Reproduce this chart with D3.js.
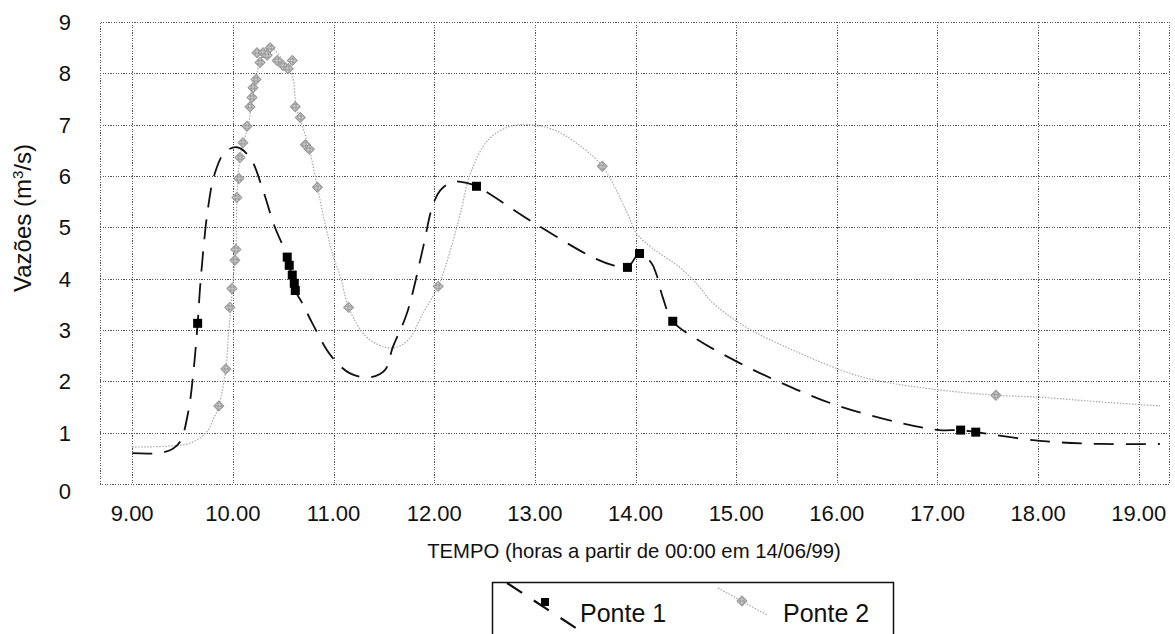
<!DOCTYPE html>
<html lang="pt">
  <head>
    <meta charset="utf-8">
    <title>Vazões - Ponte 1 e Ponte 2</title>
    <style>
      body {margin: 0; background: #fff;}
      svg {display: block;}
      text {font-family: "Liberation Sans", Arial, sans-serif; fill: #111;}
      .grid line {stroke: #555; stroke-dasharray: 1.2,1.4; shape-rendering: crispEdges;}
      .frame {fill: none; stroke: #555; stroke-dasharray: 1.2,1.4; shape-rendering: crispEdges;}
      .tick {font-size: 22px;}
    </style>
    <script src="https://d3js.org/d3.v7.min.js"></script>
  </head>
  <body>
    <script type="text/javascript">
      // tick values
      var xTicks = [9, 10, 11, 12, 13, 14, 15, 16, 17, 18, 19];
      var xTickLabels = ["9.00", "10.00", "11.00", "12.00", "13.00", "14.00", "15.00", "16.00", "17.00", "18.00", "19.00"];
      var yTicks = [0, 1, 2, 3, 4, 5, 6, 7, 8, 9];

      // Ponte 1 - smooth curve (time, flow)
      var p1LineT = [9.00, 9.26, 9.40, 9.48, 9.56, 9.61, 9.65, 9.68, 9.75, 9.82, 9.92, 10.04, 10.17, 10.30, 10.41, 10.54, 10.62, 10.69, 10.79, 10.97, 11.16, 11.36, 11.51, 11.59, 11.73, 11.89, 11.98, 12.06, 12.19, 12.33, 12.42, 12.98, 13.57, 13.78, 13.92, 14.04, 14.16, 14.21, 14.27, 14.37, 14.61, 15.04, 15.37, 15.96, 16.63, 17.02, 17.23, 17.38, 18.02, 18.61, 19.21];
      var p1LineQ = [0.60, 0.60, 0.68, 0.84, 1.44, 2.22, 3.13, 3.97, 5.33, 6.05, 6.46, 6.56, 6.36, 5.72, 5.04, 4.42, 3.77, 3.52, 3.13, 2.51, 2.16, 2.08, 2.22, 2.67, 3.33, 4.61, 5.39, 5.72, 5.89, 5.86, 5.80, 5.10, 4.42, 4.26, 4.22, 4.49, 4.30, 4.07, 3.64, 3.17, 2.82, 2.35, 2.04, 1.56, 1.19, 1.05, 1.05, 1.01, 0.84, 0.78, 0.78];
      // Ponte 1 - measured points
      var p1PtsT = [9.65, 10.54, 10.56, 10.59, 10.61, 10.62, 12.42, 13.92, 14.04, 14.37, 17.23, 17.38];
      var p1PtsQ = [3.13, 4.42, 4.26, 4.07, 3.91, 3.77, 5.80, 4.22, 4.49, 3.17, 1.05, 1.01];

      // Ponte 2 - smooth curve
      var p2LineT = [9.00, 9.38, 9.58, 9.74, 9.81, 9.86, 9.93, 9.96, 9.98, 10.01, 10.03, 10.04, 10.07, 10.11, 10.16, 10.19, 10.23, 10.28, 10.37, 10.50, 10.59, 10.63, 10.69, 10.76, 10.84, 10.92, 11.00, 11.07, 11.15, 11.31, 11.46, 11.59, 11.74, 11.89, 12.04, 12.16, 12.26, 12.36, 12.53, 12.73, 12.95, 13.20, 13.42, 13.67, 13.92, 14.01, 14.17, 14.44, 14.64, 14.74, 15.07, 15.63, 16.26, 16.95, 17.58, 18.02, 18.61, 19.21];
      var p2LineQ = [0.72, 0.74, 0.80, 1.01, 1.28, 1.52, 2.24, 3.00, 3.44, 4.16, 4.57, 5.53, 6.36, 6.69, 7.04, 7.53, 7.88, 8.29, 8.50, 8.25, 7.96, 7.35, 6.98, 6.52, 5.78, 5.04, 4.42, 4.03, 3.44, 2.90, 2.70, 2.65, 2.80, 3.33, 3.85, 4.55, 5.27, 6.05, 6.69, 6.95, 7.00, 6.89, 6.63, 6.19, 5.27, 4.88, 4.59, 4.22, 3.83, 3.58, 3.09, 2.55, 2.08, 1.85, 1.73, 1.69, 1.60, 1.52];
      // Ponte 2 - measured points
      var p2PtsT = [9.86, 9.93, 9.97, 9.99, 10.02, 10.03, 10.04, 10.06, 10.07, 10.10, 10.14, 10.17, 10.19, 10.20, 10.23, 10.27, 10.24, 10.30, 10.37, 10.34, 10.44, 10.50, 10.55, 10.59, 10.62, 10.67, 10.72, 10.76, 10.84, 11.15, 12.04, 13.67, 17.58];
      var p2PtsQ = [1.52, 2.24, 3.44, 3.81, 4.36, 4.57, 5.58, 5.95, 6.36, 6.65, 6.97, 7.35, 7.53, 7.72, 7.88, 8.21, 8.40, 8.40, 8.50, 8.35, 8.25, 8.15, 8.09, 8.25, 7.35, 7.14, 6.61, 6.52, 5.78, 3.44, 3.85, 6.19, 1.73];

      var width = 1175, height = 634;
      var plotLeft = 100, plotRight = 1169, plotTop = 22, plotBottom = 484;

      var svg = d3.select("body").append("svg")
        .attr("width", width)
        .attr("height", height);

      // halftone fill for the grey diamonds
      var pat = svg.append("defs").append("pattern")
        .attr("id", "halftone")
        .attr("width", 2).attr("height", 2)
        .attr("patternUnits", "userSpaceOnUse");
      pat.append("rect").attr("width", 2).attr("height", 2).attr("fill", "#d8d8d8");
      pat.append("rect").attr("width", 1).attr("height", 1).attr("fill", "#8a8a8a");
      pat.append("rect").attr("x", 1).attr("y", 1).attr("width", 1).attr("height", 1).attr("fill", "#8a8a8a");

      var x = d3.scaleLinear().domain([8.68, 19.3]).range([plotLeft, plotRight]);
      var y = d3.scaleLinear().domain([0, 9]).range([plotBottom, plotTop]);

      // grid
      var grid = svg.append("g").attr("class", "grid");
      grid.selectAll(".vg").data(xTicks).enter().append("line")
        .attr("x1", function(d) { return Math.round(x(d)) + 0.5; })
        .attr("x2", function(d) { return Math.round(x(d)) + 0.5; })
        .attr("y1", plotTop).attr("y2", plotBottom);
      grid.selectAll(".hg").data(yTicks.slice(1, -1)).enter().append("line")
        .attr("x1", plotLeft).attr("x2", plotRight)
        .attr("y1", function(d) { return Math.round(y(d)) + 0.5; })
        .attr("y2", function(d) { return Math.round(y(d)) + 0.5; });
      svg.append("rect").attr("class", "frame")
        .attr("x", plotLeft + 0.5).attr("y", plotTop + 0.5)
        .attr("width", plotRight - plotLeft).attr("height", plotBottom - plotTop);

      // tick labels
      svg.selectAll(".xl").data(xTicks).enter().append("text")
        .attr("class", "tick")
        .attr("x", function(d) { return x(d); })
        .attr("y", 521)
        .attr("text-anchor", "middle")
        .text(function(d, i) { return xTickLabels[i]; });
      svg.selectAll(".yl").data(yTicks).enter().append("text")
        .attr("class", "tick")
        .attr("x", 71)
        .attr("y", function(d) { return y(d) + 8 + (d == 0 ? 7 : 0); })
        .attr("text-anchor", "end")
        .text(function(d) { return d; });

      // axis titles
      svg.append("text")
        .attr("x", 634).attr("y", 558)
        .attr("text-anchor", "middle")
        .style("font-size", "20.3px")
        .text("TEMPO (horas a partir de 00:00 em 14/06/99)");
      var yt = svg.append("text")
        .attr("transform", "translate(31,218) rotate(-90)")
        .attr("text-anchor", "middle")
        .style("font-size", "24px");
      yt.append("tspan").text("Vazões (m");
      yt.append("tspan").attr("dy", -8).style("font-size", "15px").text("3");
      yt.append("tspan").attr("dy", 8).text("/s)");

      var line = d3.line()
        .x(function(d) { return x(d[0]); })
        .y(function(d) { return y(d[1]); })
        .curve(d3.curveCatmullRom.alpha(0.5));

      // Ponte 2
      svg.append("path")
        .datum(d3.zip(p2LineT, p2LineQ))
        .attr("d", line)
        .attr("fill", "none")
        .attr("stroke", "#a8a8a8")
        .attr("stroke-width", 1.2)
        .attr("stroke-dasharray", "1.5,1.5");

      var diamond = d3.symbol().type(d3.symbolSquare).size(50);
      svg.append("g").selectAll("path")
        .data(d3.zip(p2PtsT, p2PtsQ))
        .enter().append("path")
        .attr("d", diamond)
        .attr("transform", function(d) { return "translate(" + x(d[0]) + "," + y(d[1]) + ") rotate(45)"; })
        .attr("fill", "url(#halftone)")
        .attr("stroke", "#9a9a9a")
        .attr("stroke-width", 1);

      // Ponte 1
      svg.append("path")
        .datum(d3.zip(p1LineT, p1LineQ))
        .attr("d", line)
        .attr("fill", "none")
        .attr("stroke", "#111")
        .attr("stroke-width", 1.8)
        .attr("stroke-dasharray", "20,12");

      svg.append("g").selectAll("rect")
        .data(d3.zip(p1PtsT, p1PtsQ))
        .enter().append("rect")
        .attr("x", function(d) { return x(d[0]) - 4.5; })
        .attr("y", function(d) { return y(d[1]) - 4.5; })
        .attr("width", 9).attr("height", 9)
        .attr("fill", "#000");

      // legend
      var lg = svg.append("g");
      lg.append("rect")
        .attr("x", 492.5).attr("y", 582.5)
        .attr("width", 401).attr("height", 80)
        .attr("fill", "#fff")
        .attr("stroke", "#111")
        .attr("stroke-width", 1.5);
      lg.append("line")
        .attr("x1", 507).attr("y1", 583).attr("x2", 579).attr("y2", 630)
        .attr("stroke", "#111").attr("stroke-width", 2.2)
        .attr("stroke-dasharray", "18,14");
      lg.append("rect")
        .attr("x", 541).attr("y", 598).attr("width", 8).attr("height", 8)
        .attr("fill", "#000");
      lg.append("text")
        .attr("x", 580).attr("y", 622)
        .style("font-size", "25px")
        .text("Ponte 1");
      lg.append("line")
        .attr("x1", 718).attr("y1", 588).attr("x2", 767).attr("y2", 615)
        .attr("stroke", "#a8a8a8").attr("stroke-width", 1.2)
        .attr("stroke-dasharray", "1.5,1.5");
      lg.append("path")
        .attr("d", diamond)
        .attr("transform", "translate(742,601) rotate(45)")
        .attr("fill", "url(#halftone)")
        .attr("stroke", "#9a9a9a");
      lg.append("text")
        .attr("x", 783).attr("y", 622)
        .style("font-size", "25px")
        .text("Ponte 2");
    </script>
  </body>
</html>
